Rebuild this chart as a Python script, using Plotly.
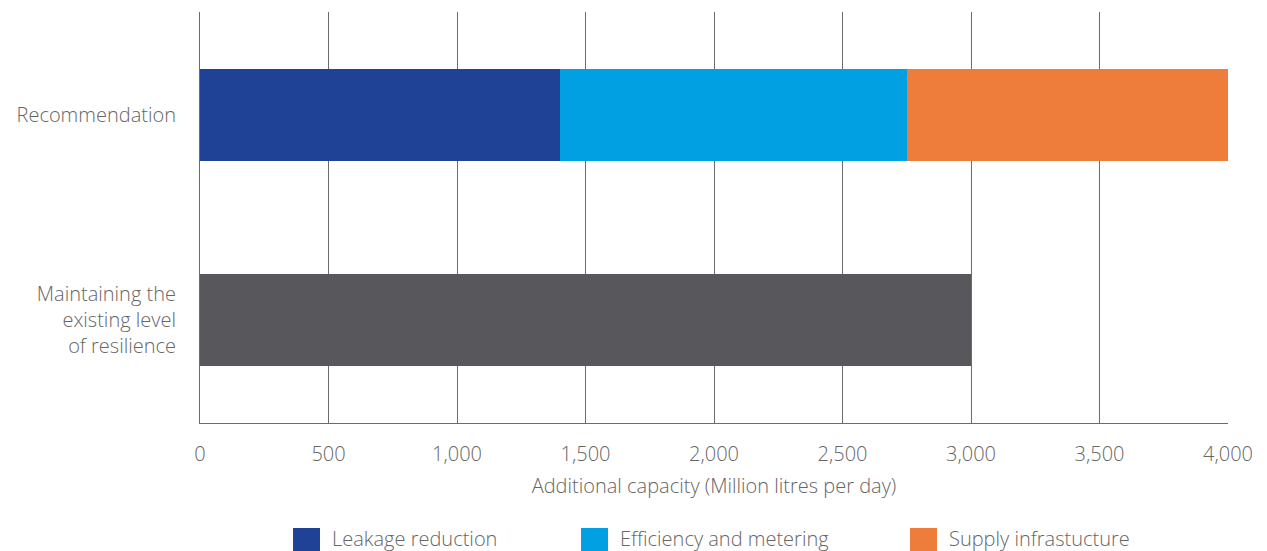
import plotly.graph_objects as go

# Scenario categories (bottom to top)
categories = ["Maintaining the<br>existing level<br>of resilience", "Recommendation"]

# Additional capacity components (Ml/d)
series_names = ["Leakage reduction", "Efficiency and metering", "Supply infrastucture"]
series_colors = ["#1F4196", "#00A0E3", "#EE7D3B"]
recommendation_values = [1400, 1350, 1250]

baseline_name = "Maintaining the existing level of resilience"
baseline_value = 3000
baseline_color = "#58575C"

x_ticks = [0, 500, 1000, 1500, 2000, 2500, 3000, 3500, 4000]
x_tick_labels = ["0", "500", "1,000", "1,500", "2,000", "2,500", "3,000", "3,500", "4,000"]

FONT = "Open Sans"
TEXT_COLOR = "#666666"
LINE_COLOR = "#6b6b6b"
TXT = dict(family=FONT, size=20, color=TEXT_COLOR, weight=300)

fig = go.Figure()

fig.add_trace(go.Bar(
    y=[categories[0]], x=[baseline_value], orientation="h",
    marker=dict(color=baseline_color, line=dict(width=0)),
    width=0.45, name=baseline_name, showlegend=False,
))

for name, color, val in zip(series_names, series_colors, recommendation_values):
    fig.add_trace(go.Bar(
        y=[categories[1]], x=[val], orientation="h",
        marker=dict(color=color, line=dict(width=0)),
        width=0.45, name=name, showlegend=False,
    ))

# Custom legend row beneath the axis title
legend_x = [293, 581, 910]
W, H = 1267, 551
ml, mr, mt, mb = 200, 39, 12, 128
pw, ph = W - ml - mr, H - mt - mb
shapes = []
annotations = []
for lx, name, color in zip(legend_x, series_names, series_colors):
    shapes.append(dict(
        type="rect", xref="paper", yref="paper",
        x0=(lx - ml) / pw, x1=(lx + 27 - ml) / pw,
        y0=(ph + mt - 552) / ph, y1=(ph + mt - 528) / ph,
        fillcolor=color, line=dict(width=0), layer="above",
    ))
    annotations.append(dict(
        xref="paper", yref="paper", x=(lx + 37 - ml) / pw, y=(ph + mt - 538) / ph,
        xanchor="left", yanchor="middle", text=name, showarrow=False,
        font=TXT,
    ))

fig.update_layout(
    width=W, height=H,
    margin=dict(l=ml, r=mr, t=mt, b=mb),
    barmode="stack",
    plot_bgcolor="white", paper_bgcolor="white",
    font=TXT,
    showlegend=False,
    shapes=shapes,
    annotations=annotations,
    xaxis=dict(
        range=[0, 4000], tickvals=x_ticks, ticktext=x_tick_labels,
        showgrid=True, gridcolor=LINE_COLOR, gridwidth=1,
        showline=True, linecolor=LINE_COLOR, linewidth=1,
        zeroline=False, ticks="", ticklabelstandoff=13,
        title=dict(text="Additional capacity (Million litres per day)", font=TXT, standoff=12),
        tickfont=TXT,
        fixedrange=True,
    ),
    yaxis=dict(
        categoryorder="array", categoryarray=categories,
        range=[-0.5, 1.5],
        showgrid=False, showline=True, linecolor=LINE_COLOR, linewidth=1,
        ticks="", ticklabelstandoff=19, fixedrange=True,
        tickfont=TXT,
    ),
)

fig.write_html("out.html")
